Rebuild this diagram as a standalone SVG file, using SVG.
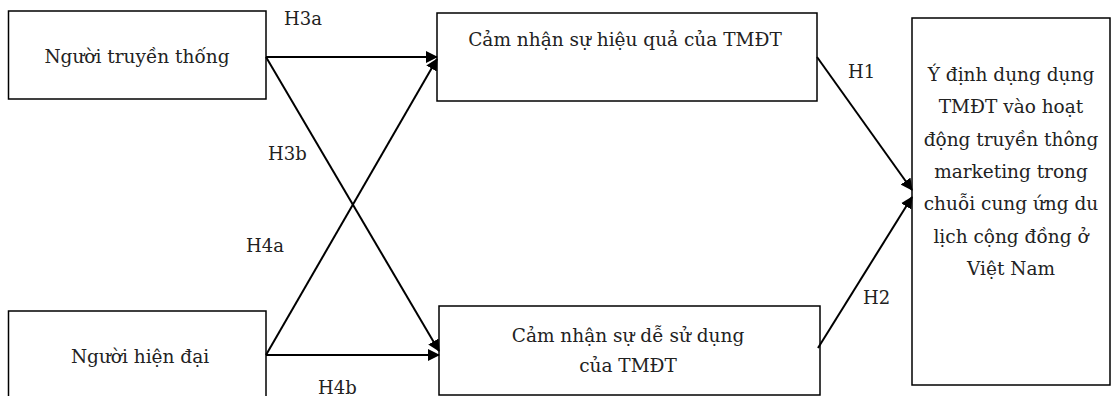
<svg xmlns="http://www.w3.org/2000/svg" width="1112" height="396" viewBox="0 0 1112 396">
<style>
.box{fill:#fff;stroke:#000;stroke-width:1.5}
.t{font-family:"DejaVu Serif","Liberation Serif",serif;font-size:18.5px;fill:#222;text-anchor:middle}
.lbl{font-family:"DejaVu Serif","Liberation Serif",serif;font-size:18px;fill:#222}
.c{stroke:#000;stroke-width:2;fill:none}
</style>
<defs>
<marker id="ah" markerWidth="12" markerHeight="12" refX="11" refY="6" orient="auto" markerUnits="userSpaceOnUse">
<path d="M0,0 L12,6 L0,12 Z" fill="#000"/>
</marker>
</defs>
<rect width="1112" height="396" fill="#fff"/>
<g id="n1"><rect class="box" x="8.5" y="11" width="257.5" height="88"/><text class="t" x="137" y="63">Người truyền thống</text></g>
<g id="n2"><rect class="box" x="437" y="13" width="380" height="88"/><text class="t" x="625" y="46">Cảm nhận sự hiệu quả của TMĐT</text></g>
<g id="n3"><rect class="box" x="912" y="18" width="198" height="367"/>
<text class="t" x="1011"><tspan x="1011" y="81">Ý định dụng dụng</tspan><tspan x="1011" y="113">TMĐT vào hoạt</tspan><tspan x="1011" y="146">động truyền thông</tspan><tspan x="1011" y="178">marketing trong</tspan><tspan x="1011" y="210">chuỗi cung ứng du</tspan><tspan x="1011" y="243">lịch cộng đồng ở</tspan><tspan x="1011" y="275">Việt Nam</tspan></text></g>
<g id="n4"><rect class="box" x="8.5" y="311" width="257.5" height="100"/><text class="t" x="140" y="363">Người hiện đại</text></g>
<g id="n5"><rect class="box" x="439" y="306" width="381" height="89"/><text class="t"><tspan x="628" y="342">Cảm nhận sự dễ sử dụng</tspan><tspan x="628" y="372">của TMĐT</tspan></text></g>
<g id="connectors">
<line class="c" x1="266" y1="57" x2="437" y2="57" marker-end="url(#ah)"/>
<line class="c" x1="266" y1="57" x2="439" y2="351" marker-end="url(#ah)"/>
<line class="c" x1="266" y1="355" x2="437" y2="59" marker-end="url(#ah)"/>
<line class="c" x1="266" y1="355" x2="439" y2="355" marker-end="url(#ah)"/>
<line class="c" x1="817" y1="57" x2="912" y2="190" marker-end="url(#ah)"/>
<line class="c" x1="818" y1="348" x2="912" y2="197" marker-end="url(#ah)"/>
</g>
<g id="labels">
<text class="lbl" x="284" y="25">H3a</text>
<text class="lbl" x="848" y="78">H1</text>
<text class="lbl" x="863" y="304">H2</text>
<text class="lbl" x="268" y="160">H3b</text>
<text class="lbl" x="246" y="252">H4a</text>
<text class="lbl" x="318" y="394">H4b</text>
</g>
</svg>
